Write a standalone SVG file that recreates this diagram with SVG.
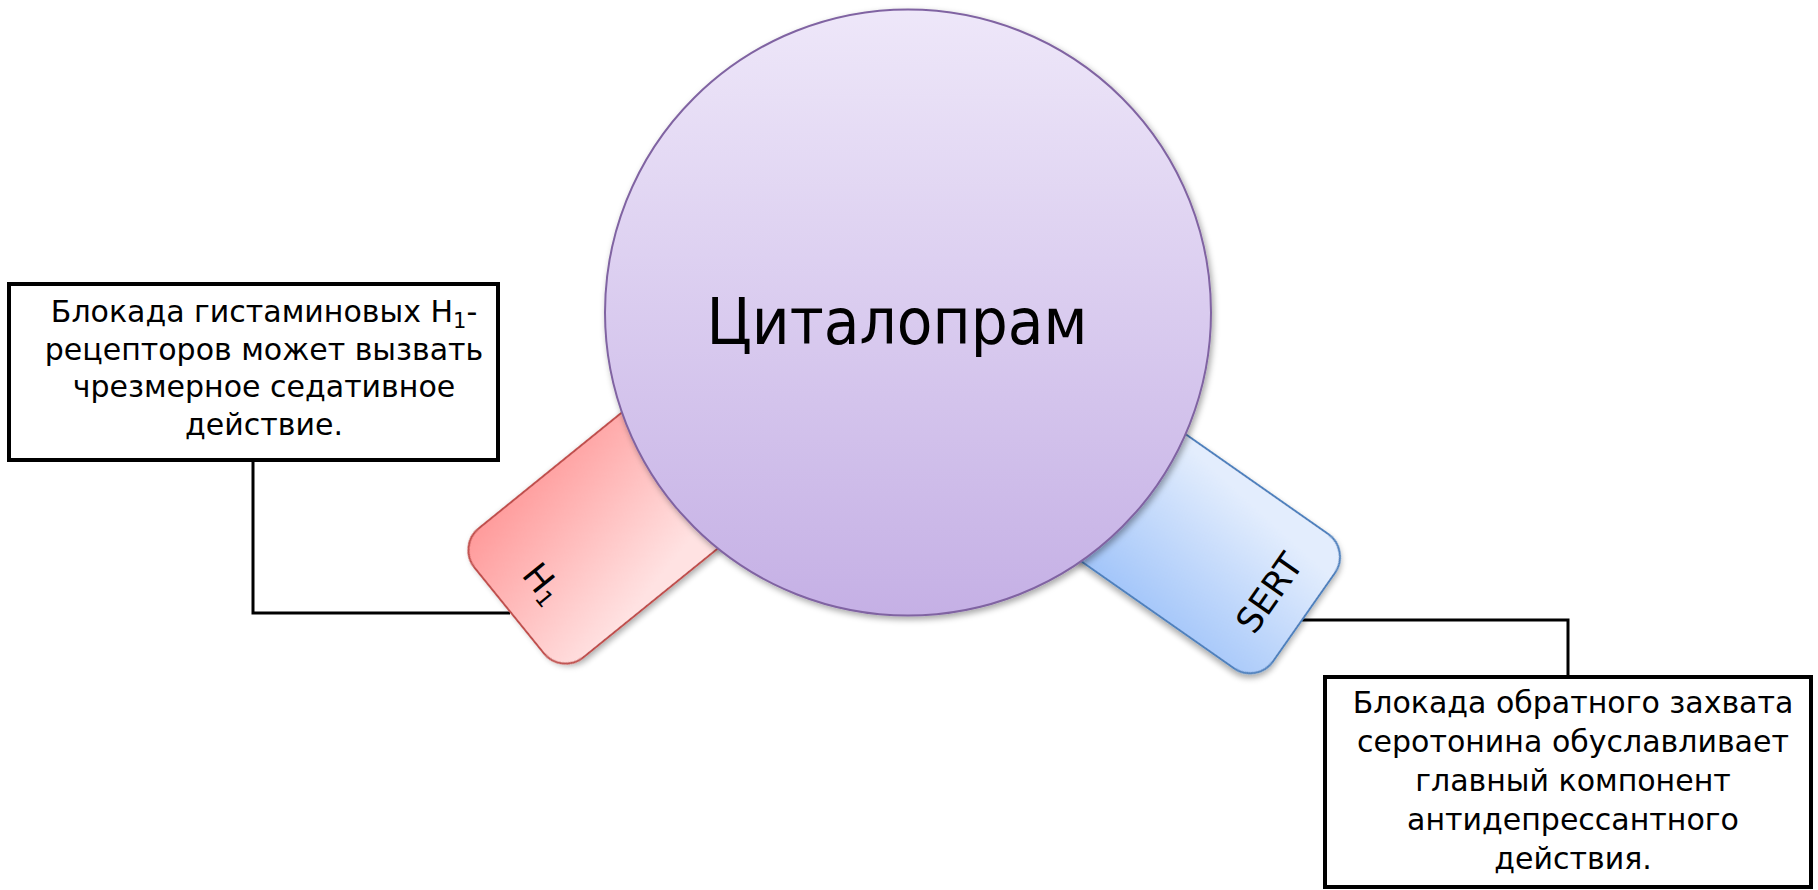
<svg xmlns="http://www.w3.org/2000/svg" width="1818" height="890" viewBox="0 0 1818 890">
<style>
.box{fill:#fff;stroke:#000;stroke-width:4}
.conn{fill:none;stroke:#000;stroke-width:3}
.t{font-family:"DejaVu Sans","Liberation Sans",sans-serif;font-size:30px;fill:#000;text-anchor:middle}
.lbl{font-family:"DejaVu Sans","Liberation Sans",sans-serif;font-size:35px;fill:#000;text-anchor:middle;dominant-baseline:central}
</style>
<defs>
<linearGradient id="gC" x1="0" y1="0" x2="0" y2="1">
<stop offset="0" stop-color="#eee7f9"/><stop offset="1" stop-color="#c5b0e5"/>
</linearGradient>
<linearGradient id="gR" x1="0" y1="0" x2="0.3" y2="1">
<stop offset="0" stop-color="#ff9999"/><stop offset="1" stop-color="#ffe2e2"/>
</linearGradient>
<linearGradient id="gB" x1="0" y1="0" x2="-0.2" y2="1">
<stop offset="0" stop-color="#e3edfd"/><stop offset="1" stop-color="#9dc2f9"/>
</linearGradient>
<filter id="sh" x="-20%" y="-20%" width="140%" height="140%">
<feDropShadow dx="2" dy="3" stdDeviation="3" flood-color="#000" flood-opacity="0.35"/>
</filter>
</defs>
<g id="connectors">
<polyline class="conn" points="253,462 253,613 510,613"/>
<polyline class="conn" points="1300,620 1568,620 1568,677"/>
</g>
<g id="node-h1">
<g transform="translate(457,546) rotate(-39)">
<rect x="0" y="0" width="240" height="166" rx="28" fill="url(#gR)" stroke="#c0504d" stroke-width="2" filter="url(#sh)"/>
<text class="lbl" transform="translate(43,83) rotate(90)">H<tspan font-size="22" baseline-shift="-8">1</tspan></text>
</g>
</g>
<g id="node-sert">
<g transform="translate(1146.2,406.6) rotate(35)">
<rect x="0" y="0" width="250" height="164" rx="28" fill="url(#gB)" stroke="#4f81bd" stroke-width="2" filter="url(#sh)"/>
<text class="lbl" transform="translate(208,82) rotate(-90)">SERT</text>
</g>
</g>
<g id="node-citalopram">
<circle cx="908" cy="312.5" r="303" fill="url(#gC)" stroke="#8064a2" stroke-width="2" filter="url(#sh)"/>
<text x="897" y="344" font-family="DejaVu Sans, Liberation Sans, sans-serif" font-size="64" text-anchor="middle" textLength="381" lengthAdjust="spacingAndGlyphs">Циталопрам</text>
</g>
<g id="node-left-note">
<rect class="box" x="9" y="284" width="489" height="176"/>
<text class="t"><tspan x="264" y="322">Блокада гистаминовых H<tspan font-size="21" baseline-shift="-6">1</tspan>-</tspan><tspan x="264" y="359.5">рецепторов может вызвать</tspan><tspan x="264" y="397">чрезмерное седативное</tspan><tspan x="264" y="434.5">действие.</tspan></text>
</g>
<g id="node-right-note">
<rect class="box" x="1325" y="677" width="486" height="210"/>
<text class="t"><tspan x="1573" y="713">Блокада обратного захвата</tspan><tspan x="1573" y="752">серотонина обуславливает</tspan><tspan x="1573" y="791">главный компонент</tspan><tspan x="1573" y="830">антидепрессантного</tspan><tspan x="1573" y="869">действия.</tspan></text>
</g>
</svg>
